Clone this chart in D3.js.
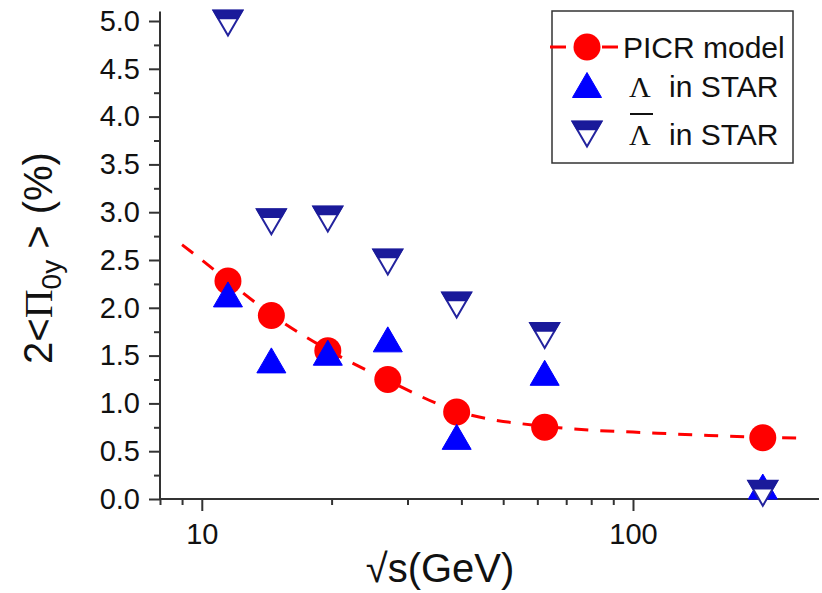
<!DOCTYPE html>
<html><head><meta charset="utf-8">
<script src="https://cdn.jsdelivr.net/npm/d3@7"></script>
<style>body{margin:0;background:#fff} svg{display:block}</style>
</head><body>
<script>
// ---- data ----
const energies = [11.5, 14.5, 19.6, 27, 39, 62.4, 200];
const picrModel = [2.28, 1.92, 1.55, 1.25, 0.91, 0.75, 0.64];
const lambdaSTAR = [2.14, 1.45, 1.53, 1.67, 0.65, 1.32, 0.13];
const antiLambdaSTAR = [4.98, 2.90, 2.93, 2.48, 2.03, 1.71, 0.06];
const curveX = [9, 10, 11.5, 14.5, 19.6, 27, 39, 62.4, 80, 100, 150, 200, 250];
const curveY = [2.66, 2.50, 2.28, 1.93, 1.56, 1.24, 0.92, 0.76, 0.72, 0.70, 0.665, 0.645, 0.635];
const yTicks = [0, 0.5, 1, 1.5, 2, 2.5, 3, 3.5, 4, 4.5, 5];
const yMinorTicks = [0.25, 0.75, 1.25, 1.75, 2.25, 2.75, 3.25, 3.75, 4.25, 4.75];
const xTickLabels = [10, 100];
const xMinorTicks = [8, 9, 20, 30, 40, 50, 60, 70, 80, 90, 200];

const W = 822, H = 593;
const svg = d3.select("body").append("svg").attr("width", W).attr("height", H);

const x = d3.scaleLog().domain([8, 270]).range([160, 819]);
const y = d3.scaleLinear().domain([0, 5.1]).range([499, 499 - 5.1 * 95.6]);

const axisColor = "#333";
const sans = "'Liberation Sans', Arial, sans-serif";
const serif = "'Liberation Serif', 'Times New Roman', serif";

// ---- axes ----
const xAxisMajor = d3.axisBottom(x).tickValues(xTickLabels).tickFormat(d3.format("d")).tickSize(12).tickPadding(12);
const xAxisMinor = d3.axisBottom(x).tickValues(xMinorTicks).tickFormat("").tickSize(6);
const gx = svg.append("g").attr("transform", `translate(0,${y(0)})`);
gx.call(xAxisMajor);
gx.append("g").call(xAxisMinor);
const yAxisMajor = d3.axisLeft(y).tickValues(yTicks).tickFormat(d3.format(".1f")).tickSize(11).tickPadding(9);
const yAxisMinor = d3.axisLeft(y).tickValues(yMinorTicks).tickFormat("").tickSize(6);
const gy = svg.append("g").attr("transform", `translate(${x(8)},0)`);
gy.call(yAxisMajor);
gy.append("g").call(yAxisMinor);

[gx, gy].forEach(g => {
  g.selectAll(".domain").attr("stroke", axisColor).attr("stroke-width", 2);
  g.selectAll("line").attr("stroke", axisColor).attr("stroke-width", 2);
  g.selectAll("text").attr("fill", "#111").attr("font-family", sans).attr("font-size", 29);
});
gx.selectAll(".domain").attr("d", `M${x(8)},0H${x(270)}`);
gy.selectAll(".domain").attr("d", `M0,${y(0)}V${y(5.1)}`);
gx.selectAll("g").selectAll(".domain").remove();
gy.selectAll("g").selectAll(".domain").remove();

// ---- titles ----
svg.append("text").attr("x", 440).attr("y", 582).attr("text-anchor", "middle")
  .attr("font-family", sans).attr("font-size", 40).attr("fill", "#111")
  .text("√s(GeV)");

const yt = svg.append("text").attr("transform", "translate(52,258) rotate(-90)")
  .attr("text-anchor", "middle").attr("font-family", sans).attr("font-size", 40).attr("fill", "#111");
yt.append("tspan").text("2<");
yt.append("tspan").attr("font-family", serif).text("Π");
yt.append("tspan").attr("font-size", 28).attr("dy", 9).text("0y");
yt.append("tspan").attr("dy", -9).text(" > (%)");

// ---- marker helpers ----
const TW = 29, TH = 25;
function upTri(g, cx, cy) {
  g.append("path").attr("d", `M${cx},${cy - TH / 2}L${cx + TW / 2},${cy + TH / 2}L${cx - TW / 2},${cy + TH / 2}Z`)
    .attr("fill", "#0000ff").attr("stroke", "#0000ff").attr("stroke-width", 1).attr("stroke-linejoin", "miter");
}
function downTri(g, cx, cy) {
  const top = cy - TH / 2, f = TH * 0.32, hw = TW / 2 * (1 - f / TH);
  g.append("path").attr("d", `M${cx - TW / 2},${top}L${cx + TW / 2},${top}L${cx},${cy + TH / 2}Z`)
    .attr("fill", "#fff").attr("stroke", "#23239e").attr("stroke-width", 2).attr("stroke-linejoin", "miter");
  g.append("path").attr("d", `M${cx - TW / 2},${top}L${cx + TW / 2},${top}L${cx + hw},${top + f}L${cx - hw},${top + f}Z`)
    .attr("fill", "#1a1a9a").attr("stroke", "#1a1a9a").attr("stroke-width", 1.5);
}
function circ(g, cx, cy) {
  g.append("circle").attr("cx", cx).attr("cy", cy).attr("r", 13.5).attr("fill", "#ff0000");
}

// ---- model curve ----
const curveData = curveX.map((d, i) => [d, curveY[i]]);
svg.append("path").datum(curveData)
  .attr("d", d3.line().x(d => x(d[0])).y(d => y(d[1])).curve(d3.curveMonotoneX))
  .attr("fill", "none").attr("stroke", "#ff0000").attr("stroke-width", 3).attr("stroke-dasharray", "14,12");

const marks = svg.append("g");
energies.forEach((e, i) => circ(marks, x(e), y(picrModel[i])));
energies.forEach((e, i) => upTri(marks, x(e), y(lambdaSTAR[i])));
energies.forEach((e, i) => downTri(marks, x(e), y(antiLambdaSTAR[i])));

// ---- legend ----
const lg = svg.append("g");
lg.append("rect").attr("x", 552).attr("y", 11).attr("width", 241).attr("height", 152)
  .attr("fill", "#fff").attr("stroke", "#333").attr("stroke-width", 1.5);
lg.append("line").attr("x1", 550).attr("x2", 620).attr("y1", 47).attr("y2", 47)
  .attr("stroke", "#ff0000").attr("stroke-width", 3).attr("stroke-dasharray", "16,36");
circ(lg, 587, 47);
lg.append("text").attr("x", 623).attr("y", 58).attr("font-family", sans).attr("font-size", 30).attr("fill", "#111").text("PICR model");
upTri(lg, 587, 85);
lg.append("text").attr("x", 629).attr("y", 97).attr("font-family", serif).attr("font-size", 30).attr("fill", "#111").text("Λ");
lg.append("text").attr("x", 669).attr("y", 97).attr("font-family", sans).attr("font-size", 30).attr("fill", "#111").text("in STAR");
downTri(lg, 587, 134);
lg.append("text").attr("x", 629).attr("y", 145).attr("font-family", serif).attr("font-size", 30).attr("fill", "#111").text("Λ");
lg.append("line").attr("x1", 630).attr("x2", 653).attr("y1", 114).attr("y2", 114).attr("stroke", "#111").attr("stroke-width", 2);
lg.append("text").attr("x", 669).attr("y", 145).attr("font-family", sans).attr("font-size", 30).attr("fill", "#111").text("in STAR");
</script>
</body></html>
